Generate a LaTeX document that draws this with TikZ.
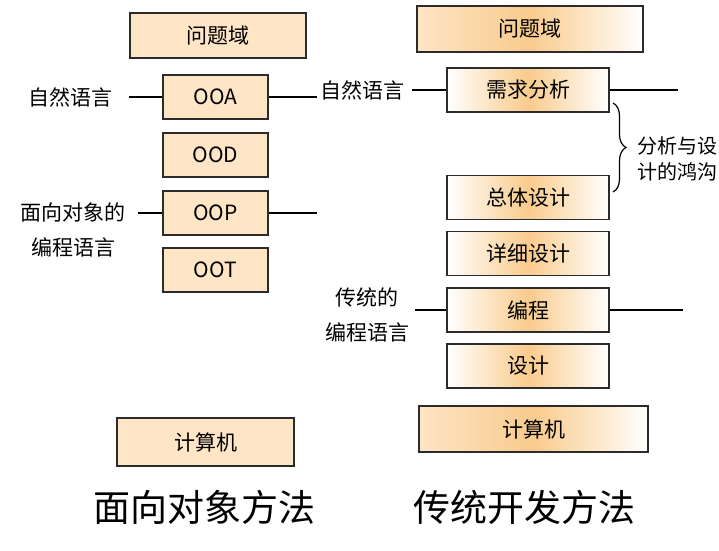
\documentclass[tikz,border=0pt]{standalone}
\usepackage{fontspec}
\setmainfont{Noto Sans CJK SC}
\usetikzlibrary{decorations.pathreplacing}
\definecolor{boxfill}{HTML}{FDE5C6}
\definecolor{boxpeak}{HTML}{F9CB8C}
\definecolor{boxedge}{HTML}{2B2B2B}
\begin{document}
\begin{tikzpicture}[x=1pt, y=-1pt, every node/.style={font=\fontsize{21}{24}\selectfont, inner sep=0pt},
    oobox/.style={draw=boxedge, line width=1.6pt, fill=boxfill, minimum width=105pt, minimum height=44pt},
    tbox/.style={draw=boxedge, line width=1.6pt, left color=white, right color=white, middle color=boxpeak, minimum width=162pt, minimum height=44pt},
    tbase/.style={tbox, left color=boxfill, middle color=boxpeak, minimum width=228pt, minimum height=46pt},
    twoline/.style={align=center, font=\fontsize{21}{35}\selectfont},
    title/.style={font=\fontsize{37}{40}\selectfont}]
    \fill[white] (0,0) rectangle (719,550);
    \useasboundingbox (0,0) rectangle (719,550);
    % Object oriented column
    \node[oobox, minimum width=176pt, minimum height=45pt] (pd) at (218,35.5) {问题域};
    \node[oobox] (ooa) at (215.5,97) {OOA};
    \node[oobox] (ood) at (215.5,155) {OOD};
    \node[oobox] (oop) at (215.5,213) {OOP};
    \node[oobox] (oot) at (215.5,270) {OOT};
    \node[oobox, minimum width=177pt, minimum height=48pt] (pc) at (205.5,442) {计算机};
    \node (nl) at (70,97) {自然语言};
    \node[twoline] (oolang) at (73,229.5) {面向对象的\\编程语言};
    \coordinate (ooaL) at (129,97);
    \coordinate (ooaR) at (317,97);
    \coordinate (oopL) at (138,213);
    \coordinate (oopR) at (317,213);
    \draw[line width=1.5pt] (ooaL) -- (ooa.west);
    \draw[line width=1.5pt] (ooa.east) -- (ooaR);
    \draw[line width=1.5pt] (oopL) -- (oop.west);
    \draw[line width=1.5pt] (oop.east) -- (oopR);
    % Traditional column
    \node[tbase, minimum width=226pt] (pdT) at (530,29) {问题域};
    \node[tbox] (xqfx) at (528,90) {需求分析};
    \node[tbox] (ztsj) at (528,197.5) {总体设计};
    \node[tbox] (xxsj) at (528,253.5) {详细设计};
    \node[tbox] (bc) at (528,310) {编程};
    \node[tbox] (sj) at (528,366) {设计};
    \node[tbase, minimum width=229pt] (pcT) at (533.5,429) {计算机};
    \node (nlT) at (362.5,90) {自然语言};
    \node[twoline] (tlang) at (367,314.5) {传统的\\编程语言};
    \coordinate (xqL) at (412,90);
    \coordinate (xqR) at (678,90);
    \coordinate (bcL) at (415,310);
    \coordinate (bcR) at (683,310);
    \draw[line width=1.5pt] (xqL) -- (xqfx.west);
    \draw[line width=1.5pt] (xqfx.east) -- (xqR);
    \draw[line width=1.5pt] (bcL) -- (bc.west);
    \draw[line width=1.5pt] (bc.east) -- (bcR);
    % Gap brace
    \coordinate (brTop) at (613,103);
    \coordinate (brBot) at (613,192);
    \draw[line width=1.2pt, decorate, decoration={brace, amplitude=13pt}] (brTop) -- (brBot);
    \node[anchor=west, align=left, font=\fontsize{20}{26}\selectfont] (gap) at (637,159) {分析与设\\计的鸿沟};
    % Titles
    \node[title] (oom) at (204,507) {面向对象方法};
    \node[title] (tdm) at (524.5,507) {传统开发方法};
\end{tikzpicture}
\end{document}
